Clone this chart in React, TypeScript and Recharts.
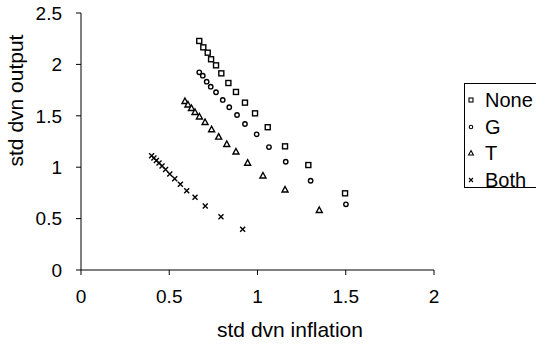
import { ScatterChart, Scatter, XAxis, YAxis, Label } from 'recharts';

// values
const noneX = [0.67, 0.693, 0.718, 0.737, 0.765, 0.795, 0.835, 0.878, 0.929, 0.986, 1.058, 1.156, 1.288, 1.496];
const noneY = [2.228, 2.166, 2.114, 2.05, 1.991, 1.913, 1.819, 1.732, 1.628, 1.524, 1.389, 1.203, 1.021, 0.746];

const gX = [0.67, 0.69, 0.712, 0.735, 0.765, 0.803, 0.84, 0.884, 0.929, 0.995, 1.065, 1.16, 1.301, 1.501];
const gY = [1.923, 1.89, 1.832, 1.783, 1.729, 1.654, 1.583, 1.508, 1.42, 1.32, 1.196, 1.053, 0.868, 0.639];

const tX = [0.589, 0.606, 0.626, 0.646, 0.671, 0.703, 0.74, 0.78, 0.826, 0.878, 0.944, 1.031, 1.156, 1.35];
const tY = [1.644, 1.61, 1.576, 1.537, 1.493, 1.44, 1.369, 1.297, 1.226, 1.153, 1.044, 0.919, 0.783, 0.584];

const bothX = [0.4, 0.413, 0.427, 0.442, 0.459, 0.479, 0.503, 0.531, 0.563, 0.599, 0.646, 0.704, 0.793, 0.916];
const bothY = [1.112, 1.09, 1.066, 1.04, 1.011, 0.977, 0.935, 0.887, 0.833, 0.771, 0.707, 0.623, 0.518, 0.396];

const xTicks = [0, 0.5, 1, 1.5, 2];
const yTicks = [0, 0.5, 1, 1.5, 2, 2.5];

const seriesNames = ['None', 'G', 'T', 'Both'];

const toPoints = (xs: number[], ys: number[]) => xs.map((x, i) => ({ x, y: ys[i] }));

const font = 'Liberation Sans, Arial, Helvetica, sans-serif';

function Marker({ kind, cx, cy, s = 1, w = 1.4 }: { kind: string; cx: number; cy: number; s?: number; w?: number }) {
  if (kind === 'None') return <rect x={cx - 2.5 * s} y={cy - 2.5 * s} width={5 * s} height={5 * s} fill="#fff" stroke="#000" strokeWidth={w} />;
  if (kind === 'G') return <circle cx={cx} cy={cy} r={2.2 * s} fill="#fff" stroke="#000" strokeWidth={w} />;
  if (kind === 'T') return <path d={`M${cx},${cy - 3 * s} L${cx + 3 * s},${cy + 2.5 * s} L${cx - 3 * s},${cy + 2.5 * s} Z`} fill="#fff" stroke="#000" strokeWidth={w} />;
  return <path d={`M${cx - 2.5 * s},${cy - 2.5 * s} L${cx + 2.5 * s},${cy + 2.5 * s} M${cx + 2.5 * s},${cy - 2.5 * s} L${cx - 2.5 * s},${cy + 2.5 * s}`} stroke="#000" strokeWidth={w} />;
}

const shapeFor = (kind: string) => (p: any) => <Marker kind={kind} cx={p.cx} cy={p.cy} />;

export default function App() {
  const series = [
    { name: 'None', data: toPoints(noneX, noneY) },
    { name: 'G', data: toPoints(gX, gY) },
    { name: 'T', data: toPoints(tX, tY) },
    { name: 'Both', data: toPoints(bothX, bothY) },
  ];
  const tick = { fontSize: 19, fill: '#000', fontFamily: font };
  return (
    <div style={{ position: 'fixed', left: 0, top: 0, width: 536, height: 344, background: '#fff', overflow: 'hidden' }}>
      <ScatterChart width={536} height={344} margin={{ top: 13, right: 102, left: 0, bottom: 0 }}>
        <XAxis
          type="number"
          dataKey="x"
          domain={[0, 2]}
          ticks={xTicks}
          height={74}
          tickSize={5}
          tickMargin={15}
          tick={tick}
          stroke="#000"
          tickLine={{ stroke: '#000' }}
        >
          <Label value="std dvn inflation" position="center" dx={32.5} dy={23} style={{ fontSize: 21, fill: '#000', fontFamily: font }} />
        </XAxis>
        <YAxis
          type="number"
          dataKey="y"
          domain={[0, 2.5]}
          ticks={yTicks}
          width={81}
          tickSize={5}
          tickMargin={14}
          tick={tick}
          stroke="#000"
          tickLine={{ stroke: '#000' }}
        >
          <Label value="std dvn output" position="center" angle={-90} dx={-25} dy={-41} style={{ fontSize: 21, fill: '#000', fontFamily: font }} />
        </YAxis>
        {series.map((s) => (
          <Scatter key={s.name} name={s.name} data={s.data} shape={shapeFor(s.name)} isAnimationActive={false} />
        ))}
      </ScatterChart>
      <div
        style={{
          position: 'absolute',
          left: 464,
          top: 83,
          width: 80,
          height: 105,
          border: '1px solid #000',
          boxSizing: 'border-box',
          fontFamily: font,
          fontSize: 20,
          color: '#000',
        }}
      >
        {seriesNames.map((name, i) => (
          <div key={name} style={{ position: 'absolute', left: 0, top: 4 + i * 26.7, height: 24, display: 'flex', alignItems: 'center' }}>
            <svg width={20} height={24} style={{ display: 'block' }}>
              <Marker kind={name} cx={6} cy={12} s={0.8} w={1.1} />
            </svg>
            <span style={{ lineHeight: '24px' }}>{name}</span>
          </div>
        ))}
      </div>
    </div>
  );
}
